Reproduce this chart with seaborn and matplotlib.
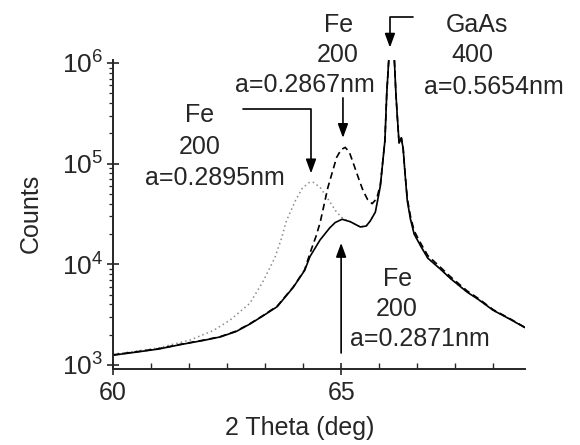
import matplotlib
matplotlib.use("Agg")
import matplotlib.pyplot as plt
import seaborn as sns
import numpy as np
from matplotlib.ticker import MultipleLocator, LogLocator, NullFormatter

# ---------------- data ----------------
solid_x = [60.0, 60.5, 61.0, 61.5, 62.0, 62.35, 62.7, 63.0, 63.3, 63.6, 63.95,
           64.2, 64.32, 64.54, 64.75, 64.87, 65.02, 65.2, 65.42, 65.55, 65.64,
           65.75, 65.86, 65.96, 66.0, 66.04, 66.11, 66.17, 66.2, 66.23, 66.27,
           66.32, 66.36, 66.4, 66.45, 66.52, 66.6, 66.75, 66.9, 67.17, 67.4,
           67.76, 68.0, 68.33, 68.7, 69.03]
solid_y = [1250, 1340, 1440, 1600, 1760, 1900, 2150, 2550, 3100, 3800, 5900,
           8700, 12000, 17500, 23000, 26000, 28000, 26500, 23500, 24000, 27000,
           33000, 60000, 170000, 500000, 1000000, 3000000, 1000000, 500000, 300000, 160000,
           180000, 140000, 80000, 43000, 28000, 20000, 15000, 11500, 9000, 7200,
           5300, 4500, 3500, 2850, 2350]

dashed_x = [60.0, 60.5, 61.0, 61.5, 62.0, 62.35, 62.7, 63.0, 63.3, 63.6, 63.95,
            64.2, 64.32, 64.45, 64.54, 64.71, 64.9, 65.0, 65.09, 65.18, 65.27,
            65.38, 65.48, 65.58, 65.68, 65.78, 65.86, 65.96, 66.0, 66.04, 66.11,
            66.17, 66.2, 66.23, 66.27, 66.32, 66.36, 66.4, 66.45, 66.52, 66.6,
            66.75, 66.9, 67.17, 67.4, 67.76, 68.0, 68.33, 68.7, 69.03]
dashed_y = [1260, 1350, 1450, 1610, 1770, 1910, 2170, 2570, 3120, 3850, 5950,
            8800, 13000, 19000, 26000, 58000, 115000, 138000, 145000, 130000, 100000,
            72000, 54000, 44000, 40000, 45000, 62000, 170000, 500000, 1000000, 3000000,
            1000000, 500000, 300000, 160000, 180000, 140000, 82000, 45000, 30000, 21500,
            16000, 12200, 9400, 7500, 5450, 4600, 3550, 2880, 2360]

dotted_x = [60.0, 60.5, 61.0, 61.69, 62.2, 62.57, 63.0, 63.3, 63.55, 63.7, 63.8,
            64.0, 64.15, 64.3, 64.4, 64.54, 64.69, 64.9, 65.04, 65.2, 65.42,
            65.55, 65.64, 65.75, 65.86, 65.96, 66.0, 66.04, 66.11, 66.17, 66.2,
            66.23, 66.27, 66.32, 66.36, 66.4, 66.45, 66.52, 66.6, 66.75, 66.9,
            67.17, 67.4, 67.76, 68.0, 68.33, 68.7, 69.03]
dotted_y = [1280, 1370, 1480, 1770, 2200, 2800, 4100, 6900, 11700, 18500, 27000,
            43000, 57000, 65000, 65000, 58000, 46000, 33000, 28500, 26500, 23500,
            24000, 27000, 33000, 60000, 170000, 500000, 1000000, 3000000, 1000000, 500000,
            300000, 160000, 180000, 140000, 80000, 43000, 28000, 20000, 15000, 11500,
            9000, 7200, 5300, 4500, 3500, 2850, 2350]

x_ticks = [60, 65]
y_ticks = [1e3, 1e4, 1e5, 1e6]
y_tick_labels = [r"$10^{3}$", r"$10^{4}$", r"$10^{5}$", r"$10^{6}$"]

# ---------------- style ----------------
sns.set_style("ticks")
plt.rcParams["font.family"] = ["Liberation Sans", "DejaVu Sans"]
plt.rcParams["mathtext.fontset"] = "custom"
plt.rcParams["mathtext.rm"] = "Liberation Sans"
plt.rcParams["mathtext.it"] = "Liberation Sans:italic"

W, H = 580, 445
fig = plt.figure(figsize=(W / 100, H / 100), dpi=100)
ax = fig.add_axes([113 / W, 1 - 369 / H, (525 - 113) / W, (369 - 60) / H])

sns.lineplot(x=dotted_x, y=dotted_y, ax=ax, color="#8a8a8a", lw=1.1,
             linestyle=(0, (1, 2)), estimator=None, sort=False)
sns.lineplot(x=dashed_x, y=dashed_y, ax=ax, color="black", lw=1.2,
             linestyle=(0, (4, 2.5)), estimator=None, sort=False)
sns.lineplot(x=solid_x, y=solid_y, ax=ax, color="black", lw=1.2,
             estimator=None, sort=False)

ax.set_yscale("log")
ax.set_xlim(60, 69.03)
ax.set_ylim(912, 1.07e6)

ax.set_xticks(x_ticks)
ax.set_xticklabels([str(t) for t in x_ticks], fontsize=18)
ax.xaxis.set_minor_locator(MultipleLocator(5 / 6))
ax.set_yticks(y_ticks)
ax.set_yticklabels(y_tick_labels, fontsize=19)
ax.yaxis.set_minor_locator(LogLocator(base=10, subs=np.arange(2, 10)))
ax.yaxis.set_minor_formatter(NullFormatter())

ax.tick_params(axis="x", which="major", direction="inout", length=9, width=1.2, pad=4)
ax.tick_params(axis="x", which="minor", direction="in", length=4, width=1.0)
ax.tick_params(axis="y", which="major", direction="inout", length=8, width=1.2, pad=3)
ax.tick_params(axis="y", which="minor", direction="out", length=3, width=0.9)

for s in ["top", "right"]:
    ax.spines[s].set_visible(False)
for s in ["left", "bottom"]:
    ax.spines[s].set_linewidth(1.4)

ax.set_xlabel("")
ax.set_ylabel("")

def px(x, y):
    return (x / W, 1 - y / H)

fig.text(*px(300, 428), "2 Theta (deg)", fontsize=18, ha="center", va="center")
fig.text(*px(31, 213), "Counts", fontsize=18, ha="center", va="center", rotation=90)

fs = 18
labels = [
    (200, 113, "Fe"), (200, 145, "200"), (215, 175, "a=0.2895nm"),
    (339, 22, "Fe"), (338, 52, "200"), (305, 83, "a=0.2867nm"),
    (477, 22, "GaAs"), (472, 52, "400"), (494, 84, "a=0.5654nm"),
    (398, 276, "Fe"), (397, 306, "200"), (420, 337, "a=0.2871nm"),
]
for x, y, t in labels:
    fig.text(*px(x, y), t, fontsize=fs, ha="center", va="center_baseline")

arrow = dict(arrowstyle="-|>,head_length=0.6,head_width=0.22", color="black",
             lw=1.2, mutation_scale=14, shrinkA=0, shrinkB=0)
# Fe a=0.2895 (bent)
ax.annotate("", xy=(64.34, 8.0e4), xytext=(62.85, 3.5e5),
            arrowprops=dict(arrow, connectionstyle="angle,angleA=0,angleB=90,rad=0"),
            annotation_clip=False)
# Fe a=0.2867
ax.annotate("", xy=(65.04, 1.8e5), xytext=(65.04, 4.5e5), arrowprops=arrow,
            annotation_clip=False)
# GaAs (bent)
ax.annotate("", xy=(66.07, 1.42e6), xytext=(66.58, 2.85e6),
            arrowprops=dict(arrow, connectionstyle="angle,angleA=180,angleB=90,rad=0"),
            annotation_clip=False)
# Fe a=0.2871 (up)
ax.annotate("", xy=(65.0, 1.63e4), xytext=(65.0, 1315), arrowprops=arrow,
            annotation_clip=False)

fig.savefig("out.png", dpi=100)
